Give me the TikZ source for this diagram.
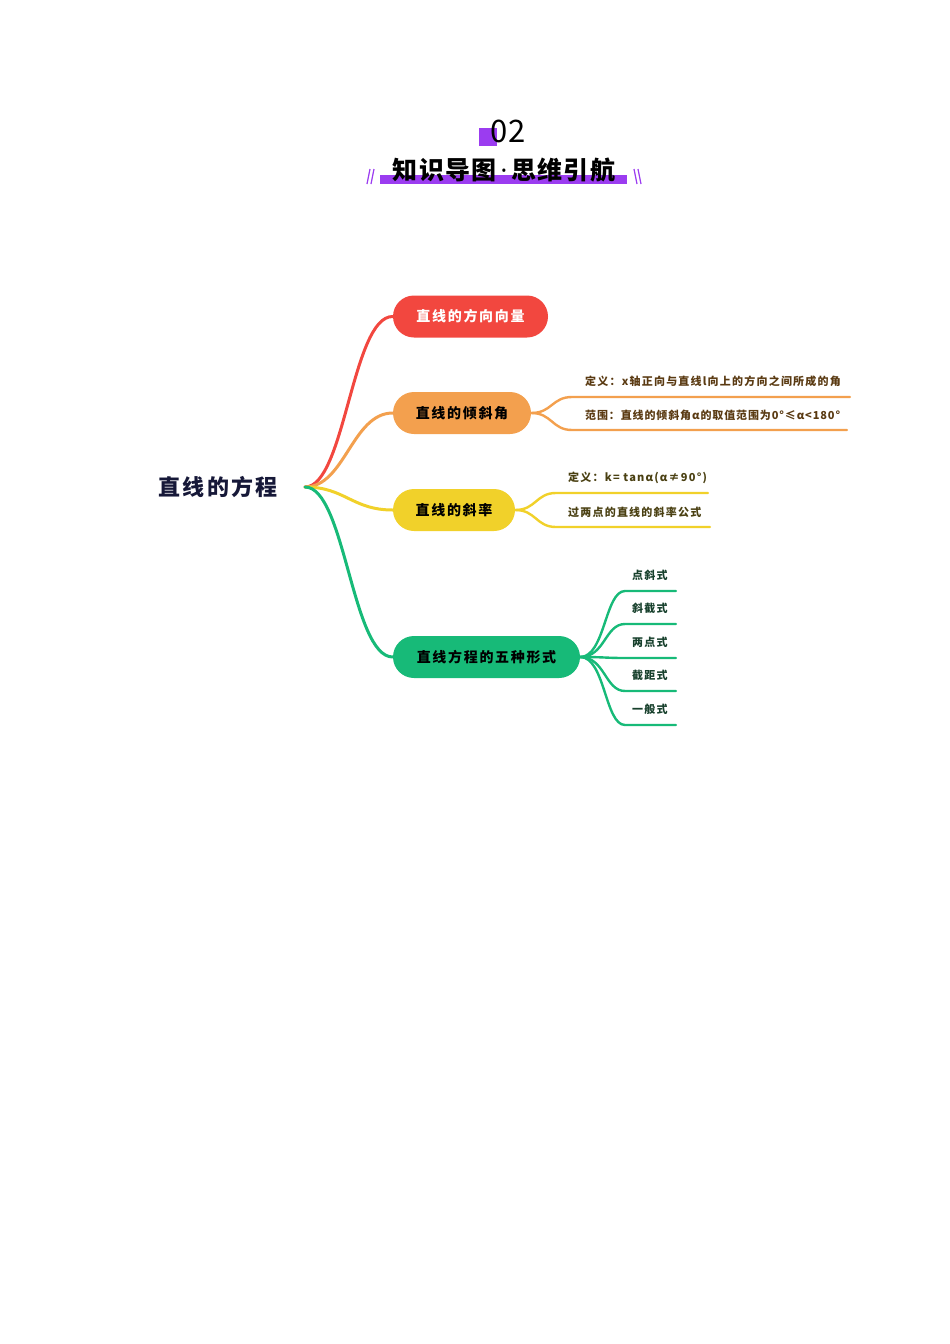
\documentclass[tikz,border=0pt]{standalone}
\usepackage{fontspec}
\setmainfont{Noto Sans CJK SC}
\newfontfamily\cjk{Noto Sans CJK SC}
\newfontfamily\latinsans{Noto Sans}
\definecolor{cred}{HTML}{F2473F}
\definecolor{corange}{HTML}{F3A04E}
\definecolor{cyellow}{HTML}{F1D12A}
\definecolor{cgreen}{HTML}{17BA78}
\definecolor{cpurple}{HTML}{9B3CF0}
\definecolor{cnavy}{HTML}{161838}
\definecolor{tbrown}{HTML}{5A3A12}
\definecolor{tolive}{HTML}{4A4012}
\definecolor{tgreen}{HTML}{17402C}
\begin{document}
\begin{tikzpicture}[x=1pt,y=-1pt,
  pill/.style={rounded corners=21pt, minimum height=42pt, inner sep=0pt, font=\cjk\bfseries\fontsize{14}{14}\selectfont\addfontfeature{LetterSpace=12}},
  branch/.style={line width=3pt, line cap=round},
  sub/.style={line width=2.4pt, line cap=round},
  leaf/.style={anchor=west, inner sep=0pt, font=\cjk\bfseries\fontsize{11}{12}\selectfont\addfontfeature{LetterSpace=11}},
  dot/.style={inner sep=0pt, minimum size=0pt}]
\useasboundingbox (0,0) rectangle (950,1344);
% title
\fill[cpurple] (479,128) rectangle (497,146);
\node[inner sep=0pt, font=\cjk\fontsize{31}{31}\selectfont] (num) at (508,131) {02};
\fill[cpurple] (380,175) rectangle (627,184);
\node[inner sep=0pt, font=\cjk\bfseries\fontsize{25}{25}\selectfont\addfontfeature{LetterSpace=5}] (title) at (504,170) {知识导图\kern4pt{\latinsans\bfseries ·}\kern4pt 思维引航};
\draw[cpurple, line width=1.2pt] (367,184) -- (370,169) (371,184) -- (374,169);
\draw[cpurple, line width=1.2pt] (634,169) -- (637,184) (638,169) -- (641,184);
% root
\node[inner sep=0pt, text=cnavy, font=\cjk\bfseries\fontsize{22}{22}\selectfont\addfontfeature{LetterSpace=10}] (root) at (218,487) {直线的方程};
\coordinate (r) at (305,487);
% main nodes
\node[pill, fill=cred, text=white, minimum width=155pt] (n1) at (470.5,316.5) {直线的方向向量};
\node[pill, fill=corange, text=black, minimum width=138pt] (n2) at (462,413) {直线的倾斜角};
\node[pill, fill=cyellow, text=black, minimum width=122pt] (n3) at (454,510) {直线的斜率};
\node[pill, fill=cgreen, text=black, minimum width=187pt] (n4) at (486.5,657) {直线方程的五种形式};
% main branches
\draw[branch, cred] (r) .. controls (345,487) and (352,316) .. (n1.west);
\draw[branch, corange] (r) .. controls (345,487) and (352,413) .. (n2.west);
\draw[branch, cyellow] (r) .. controls (345,487) and (352,510) .. (n3.west);
\draw[branch, cgreen] (r) .. controls (345,487) and (352,657) .. (n4.west);
% orange leaves
\coordinate (o1a) at (572,397); \coordinate (o1b) at (850,397);
\coordinate (o2a) at (572,430); \coordinate (o2b) at (847,430);
\draw[sub, corange] (n2.east) .. controls (552,413) and (552,397) .. (o1a) -- (o1b);
\draw[sub, corange] (n2.east) .. controls (552,413) and (552,430) .. (o2a) -- (o2b);
\node[leaf, text=tbrown] (t1) at (585,381) {定义：x轴正向与直线l向上的方向之间所成的角};
\node[leaf, text=tbrown, font=\cjk\bfseries\fontsize{11}{12}\selectfont\addfontfeature{LetterSpace=8}] (t2) at (585,415) {范围：直线的倾斜角α的取值范围为0°≤α<180°};
% yellow leaves
\coordinate (y1a) at (556,493); \coordinate (y1b) at (708,493);
\coordinate (y2a) at (556,527); \coordinate (y2b) at (710,527);
\draw[sub, cyellow] (n3.east) .. controls (536,510) and (536,493) .. (y1a) -- (y1b);
\draw[sub, cyellow] (n3.east) .. controls (536,510) and (536,527) .. (y2a) -- (y2b);
\node[leaf, text=tolive] (t3) at (568,478) {定义：k= tanα(α≠90°)};
\node[leaf, text=tolive] (t4) at (568,512) {过两点的直线的斜率公式};
% green leaves
\foreach \yy/\txt [count=\i] in {591/点斜式,624/斜截式,658/两点式,691/截距式,725/一般式}{
  \coordinate (g\i a) at (625,\yy);
  \coordinate (g\i b) at (676,\yy);
  \draw[sub, cgreen] (n4.east) .. controls (605,657) and (605,\yy) .. (g\i a) -- (g\i b);
  \node[leaf, text=tgreen] (g\i t) at (632,\yy-16) {\txt};
}
\end{tikzpicture}
\end{document}
